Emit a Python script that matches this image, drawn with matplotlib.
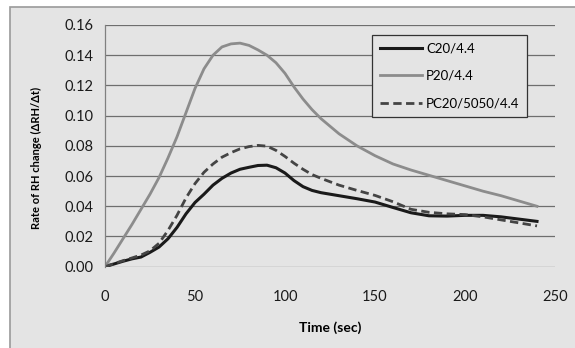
import matplotlib
matplotlib.use('Agg')
import matplotlib.pyplot as plt
from matplotlib.patches import Rectangle

plt.rcParams['font.family'] = ['Lato', 'DejaVu Sans']

time_s = [0, 5, 10, 15, 20, 25, 30, 35, 40, 45, 50, 55, 60, 65, 70, 75, 80, 85, 90,
          95, 100, 105, 110, 115, 120, 130, 140, 150, 160, 170, 180, 190, 200,
          210, 220, 230, 240]

c20 = [0, 0.0018, 0.0036, 0.0052, 0.0064, 0.0095, 0.013, 0.0185, 0.026, 0.035, 0.0425,
       0.048, 0.054, 0.0585, 0.062, 0.0645, 0.0658, 0.067, 0.0672, 0.0655, 0.062, 0.057,
       0.053, 0.0505, 0.049, 0.047, 0.045, 0.0428, 0.0392, 0.0357, 0.0337, 0.0335, 0.034,
       0.034, 0.033, 0.0315, 0.030]
p20 = [0, 0.009, 0.0185, 0.028, 0.038, 0.048, 0.059, 0.072, 0.086, 0.102, 0.118,
       0.131, 0.140, 0.1455, 0.1475, 0.148, 0.1465, 0.1435, 0.140, 0.135, 0.128, 0.119,
       0.111, 0.104, 0.098, 0.088, 0.080, 0.0735, 0.068, 0.064, 0.0605, 0.057, 0.0535,
       0.050, 0.047, 0.0435, 0.040]
pc20 = [0, 0.002, 0.004, 0.0058, 0.0077, 0.0105, 0.0155, 0.024, 0.034, 0.0455, 0.055,
        0.0625, 0.068, 0.0725, 0.0755, 0.078, 0.0795, 0.0803, 0.0798, 0.077, 0.073, 0.0685,
        0.0645, 0.061, 0.0585, 0.054, 0.0505, 0.0472, 0.043, 0.038, 0.036, 0.035, 0.0345,
        0.033, 0.031, 0.029, 0.027]

labels = ['C20/4.4', 'P20/4.4', 'PC20/5050/4.4']
yticks = [0.00, 0.02, 0.04, 0.06, 0.08, 0.10, 0.12, 0.14, 0.16]
xticks = [0, 50, 100, 150, 200, 250]

fig = plt.figure(figsize=(5.75, 3.48), dpi=100)
fig.patch.set_facecolor('white')
# grey chart frame (cropped at right and bottom)
fig.patches.append(Rectangle((10 / 575, -0.05), 1.0, 1.05 - 7 / 348,
                             transform=fig.transFigure, facecolor='#e4e4e4',
                             edgecolor='#9a9a9a', linewidth=1.2, zorder=-5))

ax = fig.add_axes([105 / 575, 1 - 266.7 / 348, 450 / 575, 241.7 / 348])
ax.set_facecolor('none')
ax.set_zorder(2)

ax.plot(time_s, c20, color='#1a1a1a', lw=2.2, label=labels[0])
ax.plot(time_s, p20, color='#8c8c8c', lw=2.0, label=labels[1])
ax.plot(time_s, pc20, color='#444444', lw=2.0, ls=(0, (3, 1.6)), label=labels[2])

ax.set_xlim(0, 250)
ax.set_ylim(0, 0.16)
ax.set_xticks(xticks)
ax.set_yticks(yticks)
ax.set_yticklabels(['%.2f' % v for v in yticks])
ax.tick_params(length=0, labelsize=10.5, colors='#1a1a1a', pad=8)
ax.tick_params(axis='x', pad=17)
ax.yaxis.grid(True, color='#6e6e6e', lw=0.9)
ax.set_axisbelow(True)
for s in ['top', 'right', 'bottom']:
    ax.spines[s].set_visible(False)
ax.spines['left'].set_color('#808080')
ax.spines['left'].set_linewidth(0.9)

ax.set_xlabel('Time (sec)', fontsize=10, fontweight='bold', labelpad=12)
ax.set_ylabel('Rate of RH change (ΔRH/Δt)', fontsize=8, fontweight='bold')
ax.yaxis.set_label_coords(-0.14, 0.45)

leg = ax.legend(loc='upper left', bbox_to_anchor=(0.593, 0.959), borderaxespad=0,
                fontsize=9.5, frameon=True, fancybox=False, handlelength=3.2,
                handletextpad=0.3, labelspacing=1.15, borderpad=0.6)
leg.get_frame().set_facecolor('#e4e4e4')
leg.get_frame().set_edgecolor('#333333')
leg.get_frame().set_alpha(1)
leg.get_frame().set_linewidth(0.9)

fig.savefig('out.png', dpi=100)
